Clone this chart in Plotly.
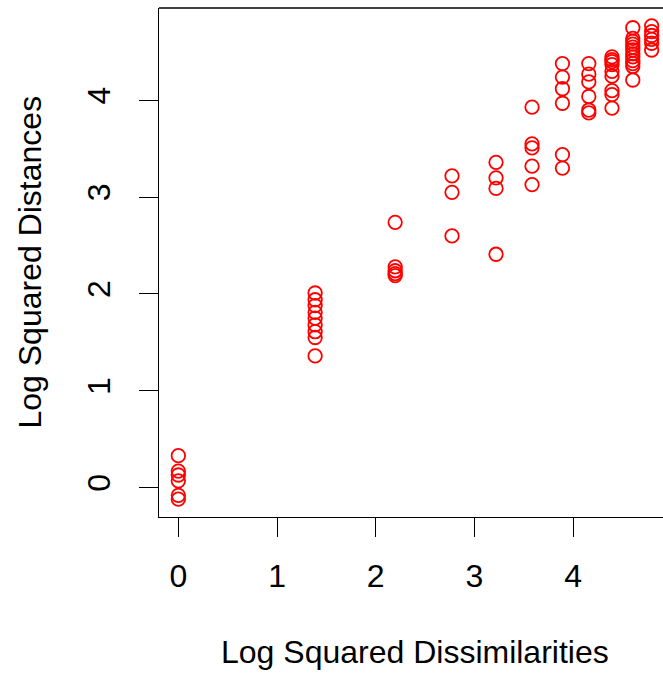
import numpy as np
import plotly.graph_objects as go

# x levels: log squared dissimilarities (log(k^2), k = 1..11)
x_levels = [0.0, 1.386, 2.197, 2.773, 3.219, 3.584, 3.892, 4.159, 4.394, 4.605, 4.796]

# log squared distances observed at each level
y_by_level = [
    [0.33, 0.17, 0.13, 0.07, -0.08, -0.12],
    [2.01, 1.94, 1.88, 1.81, 1.75, 1.68, 1.61, 1.55, 1.36],
    [2.74, 2.28, 2.24, 2.21, 2.19],
    [3.22, 3.05, 2.60],
    [3.36, 3.20, 3.09, 2.41],
    [3.93, 3.55, 3.51, 3.32, 3.13],
    [4.38, 4.24, 4.12, 3.97, 3.44, 3.30],
    [4.38, 4.27, 4.19, 4.04, 3.90, 3.87],
    [4.45, 4.42, 4.40, 4.37, 4.30, 4.25, 4.10, 4.06, 3.92],
    [4.75, 4.64, 4.61, 4.58, 4.55, 4.52, 4.48, 4.45, 4.41, 4.38, 4.35, 4.21],
    [4.77, 4.71, 4.67, 4.63, 4.59, 4.52],
]

x_ticks = [0, 1, 2, 3, 4]
y_ticks = [0, 1, 2, 3, 4]
x_title = "Log Squared Dissimilarities"
y_title = "Log Squared Distances"

xs, ys = [], []
for xv, yl in zip(x_levels, y_by_level):
    for yv in yl:
        xs.append(xv)
        ys.append(yv)

FONT = "Liberation Sans, Arial, Helvetica, sans-serif"
FS = 32

fig = go.Figure()
fig.add_trace(go.Scatter(
    x=xs, y=ys, mode="markers",
    marker=dict(symbol="circle-open", size=13.5, color="#FF0000",
                line=dict(color="#FF0000", width=1.8)),
    hoverinfo="skip",
))

L, R, T, B = 159, 0, 7.5, 159.5
fig.update_layout(
    width=663, height=677,
    margin=dict(l=L, r=R, t=T, b=B, pad=0),
    paper_bgcolor="white", plot_bgcolor="white",
    showlegend=False,
    font=dict(family=FONT, size=FS, color="black"),
)
fig.update_xaxes(
    range=[-0.196, 4.911], tickvals=x_ticks, ticktext=[str(t) for t in x_ticks],
    showgrid=False, zeroline=False, showline=True, linecolor="black", linewidth=1.3,
    ticks="outside", ticklen=19, tickwidth=1.3, tickcolor="black",
    tickfont=dict(family=FONT, size=FS, color="black"), ticklabelstandoff=11,
)
fig.update_yaxes(
    range=[-0.304, 4.954], tickvals=y_ticks, ticktext=[str(t) for t in y_ticks],
    showgrid=False, zeroline=False, showline=True, linecolor="black", linewidth=1.3,
    ticks="outside", ticklen=19, tickwidth=1.3, tickcolor="black", tickangle=-90,
    tickfont=dict(family=FONT, size=FS, color="black"), ticklabelstandoff=16,
)
# top border of the plot box
fig.add_shape(type="line", xref="paper", yref="paper", x0=0, x1=1.01, y0=1, y1=1,
              line=dict(color="black", width=1.3))

pw = 663 - L
ph = 677 - T - B
fig.add_annotation(text=x_title, xref="paper", yref="paper",
                   x=(415 - L) / pw, y=-(653 - (677 - B)) / ph,
                   xanchor="center", yanchor="middle", showarrow=False,
                   font=dict(family=FONT, size=FS, color="black"))
fig.add_annotation(text=y_title, xref="paper", yref="paper",
                   x=-(L - 29) / pw, y=0.5, textangle=-90,
                   xanchor="center", yanchor="middle", showarrow=False,
                   font=dict(family=FONT, size=FS, color="black"))

fig.write_html("out.html")
